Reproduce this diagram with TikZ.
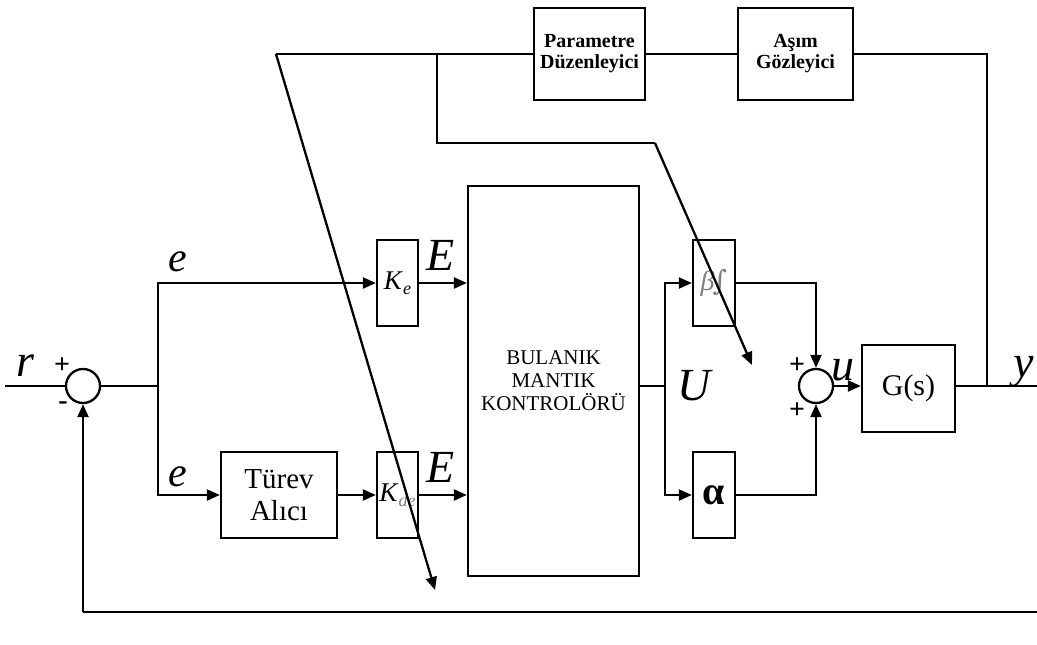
\documentclass[tikz,border=0pt]{standalone}
\usepackage{fontspec}
\setmainfont{Liberation Serif}
\newfontfamily\symfont{DejaVu Serif}
\usetikzlibrary{arrows.meta}
\begin{document}
\begin{tikzpicture}[x=1pt,y=-1pt,
  line width=2.3pt,
  blk/.style={draw,line width=2.3pt,minimum width=#1,inner sep=0pt,align=center},
  sumj/.style={draw,circle,line width=2.3pt,minimum size=34pt,inner sep=0pt},
  arr/.style={-{Triangle[length=13pt,width=11pt]}},
  lbl/.style={font=\fontsize{46}{46}\selectfont\itshape,inner sep=0pt},
  sgn/.style={font=\fontsize{28}{28}\selectfont\bfseries,inner sep=0pt}]
\useasboundingbox (0,0) rectangle (1037,645);
% blocks
\node[blk=41pt,minimum height=86pt] (ke) at (397.5,283) {\fontsize{27}{27}\selectfont\textit{K}\raisebox{-5pt}{\fontsize{18}{18}\selectfont\textit{e}}};
\node[blk=41pt,minimum height=86pt] (kde) at (397.5,495) {\fontsize{27}{27}\selectfont\textit{K}\raisebox{-5pt}{\fontsize{18}{18}\selectfont\color{gray}\textit{de}}};
\node[blk=116pt,minimum height=86pt,font=\fontsize{29}{32}\selectfont] (tur) at (279,495) {Türev\\Alıcı};
\node[blk=171pt,minimum height=390pt,font=\fontsize{21}{23}\selectfont] (bmk) at (553.5,381) {BULANIK\\MANTIK\\KONTROLÖRÜ};
\node[blk=42pt,minimum height=86pt] (beta) at (714,283) {\color{gray}\fontsize{28}{28}\selectfont\textit{β}\kern-2pt{\symfont ∫}};
\node[blk=42pt,minimum height=86pt] (alpha) at (714,495) {\fontsize{40}{40}\selectfont\bfseries α};
\node[blk=93pt,minimum height=87pt,font=\fontsize{30}{30}\selectfont] (g) at (908.5,388.5) {G(s)};
\node[blk=111pt,minimum height=92pt,font=\fontsize{20}{21}\selectfont\bfseries] (par) at (589.5,54) {Parametre\\Düzenleyici};
\node[blk=115pt,minimum height=92pt,font=\fontsize{20}{21}\selectfont\bfseries] (asim) at (795.5,54) {Aşım\\Gözleyici};
\node[sumj] (s1) at (83,386) {};
\node[sumj] (s2) at (816,386) {};
% coordinates
\coordinate (rin) at (5,386);
\coordinate (b1) at (158,386);
\coordinate (yout) at (1037,386);
\coordinate (b2) at (987,386);
\coordinate (b3) at (665,386);
\coordinate (tl) at (276,54);
\coordinate (d1end) at (435,590);
\coordinate (t2) at (437,54);
\coordinate (d2s) at (655,143);
\coordinate (d2end) at (752,365);
\coordinate (fb) at (83,612);
% labels
\node[lbl] at (25,366) {r};
\node[sgn] at (62,366) {+};
\node[sgn] at (63,406) {-};
\node[lbl,font=\fontsize{42}{42}\selectfont\itshape] at (178,262) {e};
\node[lbl,font=\fontsize{42}{42}\selectfont\itshape] at (178,477) {e};
\node[lbl] at (441,255) {E};
\node[lbl] at (441,467) {E};
\node[lbl] at (694,386) {U};
\node[sgn] at (797,366) {+};
\node[sgn] at (797,411) {+};
\node[lbl] at (843,370) {u};
\node[lbl] at (1024,372) {y};
% connectors
\draw (rin) -- (s1.west);
\draw (s1.east) -- (b1);
\draw[arr] (b1) |- (ke.west);
\draw[arr] (b1) |- (tur.west);
\draw[arr] (ke.east) -- (ke.east -| bmk.west);
\draw[arr] (tur.east) -- (kde.west);
\draw[arr] (kde.east) -- (kde.east -| bmk.west);
\draw (bmk.east |- b3) -- (b3);
\draw[arr] (b3) |- (beta.west);
\draw[arr] (b3) |- (alpha.west);
\draw[arr] (beta.east) -| (s2.north);
\draw[arr] (alpha.east) -| (s2.south);
\draw[arr] (s2.east) -- (g.west |- s2.east);
\draw (g.east |- b2) -- (yout);
\draw (b2) |- (asim.east);
\draw (asim.west) -- (par.east);
\draw (par.west) -- (tl);
\draw[arr] (tl) -- (d1end);
\draw (t2) |- (d2s);
\draw[arr] (d2s) -- (d2end);
\draw (yout |- fb) -- (fb);
\draw[arr] (fb) -- (s1.south);
\end{tikzpicture}
\end{document}
